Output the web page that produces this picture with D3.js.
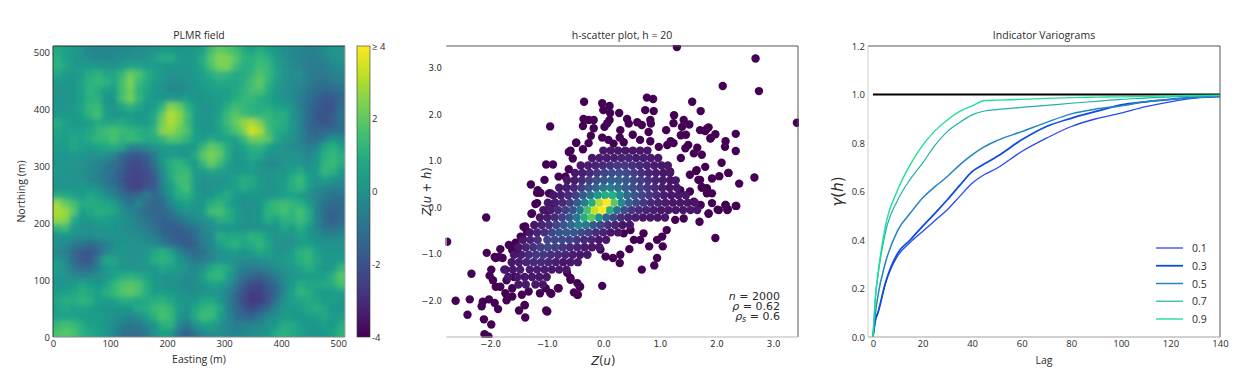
<!DOCTYPE html>
<html lang="en">

<head>
    <meta charset="UTF-8">
    <title>PLMR field, h-scatter and indicator variograms</title>
    <script src="https://d3js.org/d3.v7.min.js"></script>
    <style>
        body {
            margin: 0;
            background-color: #fff;
        }

        svg text {
            font-family: 'Open Sans', sans-serif;
            fill: #2b2b2b;
        }

        .math text, text.math {
            font-family: 'DejaVu Sans', sans-serif;
        }
    </style>
</head>

<body>
    <svg id="chart" width="1243" height="389"></svg>

    <script>
        // field values, rows run north to south
        const fieldRows = [
            [.8,.5,.3,0,-.3,-.4,-.4,-.3,-.2,-.2,-.1,-.1,0,.3,.3,.2,.2,.3,.5,1.5,2,1.8,1.5,.9,.6,1,.5,.2,-.1,-.3,-.4,-.5,-.4,-.2,.3,.1],
            [1,.6,.3,0,-.1,-.3,-.3,-.2,-.1,0,0,.1,.5,.9,.9,.4,.2,.4,.9,1.9,2.5,2.4,1.9,1.2,1,1.4,1.1,.4,0,-.3,-.5,-.6,-.6,-.4,0,.1],
            [1.1,.7,.3,.2,.4,.3,0,0,.4,.5,.6,.4,.3,.3,.2,.2,.2,.3,.8,1.7,2.3,2.4,1.5,1,1.1,1.5,1.3,.6,0,-.2,-.5,-.7,-.7,-.6,-.3,-.2],
            [.7,.4,.2,.4,.9,1.2,.8,.7,1.3,2.1,1.8,1,.6,.3,0,0,.1,.3,.5,1,1.3,1.2,.8,.9,1.3,1.8,1.4,.7,.1,-.1,0,-.6,-.8,-.8,-.5,-.4],
            [.3,.2,.1,.5,1.1,1.3,1.2,.7,1.5,2.4,1.4,.9,.4,.1,-.1,-.1,0,.2,.4,.6,.8,.7,.7,1,1.5,2,1.2,.5,.1,-.2,-.4,-.7,-.9,-1,-.8,-.6],
            [.1,.1,.2,.6,1.2,1,.5,.4,1.5,2.2,1.2,.7,.3,0,-.2,-.2,-.1,.1,.3,.4,.5,.5,.8,1.2,1.6,1.7,1,.3,0,-.3,-.5,-.9,-1.2,-1.4,-1.3,-1],
            [.2,.1,.2,.5,1.1,1.1,.2,.2,1.6,2.3,1.3,.6,.2,.2,.4,.3,.5,.2,.2,.3,.3,.5,.9,1.3,1.3,1,.7,.3,0,-.2,-.7,-1,-1.5,-1.7,-1.7,-1.3],
            [.2,.1,.3,.6,1.3,1.4,.4,.1,.7,1.2,.7,.3,.4,1.2,2.5,2.2,1.2,.4,.1,.2,.4,1,1.5,1.3,1.1,1,.9,.6,.5,.1,-.6,-1.2,-1.7,-2,-1.9,-1.2],
            [.3,.3,.3,.5,1.2,1.6,.6,.1,.3,.4,.2,.3,.8,2,3.1,2.6,1.6,.5,.1,.1,.6,1.4,1.9,1.5,1.3,1.2,1.3,1,1,.2,-.5,-1.2,-1.8,-2,-1.7,-.8],
            [.9,.5,.3,.3,.4,.9,.7,.8,.9,.6,.4,.4,.9,2.3,3,2.5,1.5,.4,.1,.2,.7,1.4,2.1,2.7,3,2.4,1.4,1.2,.9,.3,-.5,-1.3,-1.7,-1.9,-1.6,-1.1],
            [.7,.5,.5,.5,.7,1.2,1.5,1.7,1.4,1.3,1.1,.8,1.2,2.5,2.7,2.2,1.7,.5,.2,.2,.5,1.1,1.7,2.3,3.5,3,1.6,.9,.7,.2,-.5,-1.2,-1.5,-1.2,-1.2,-1],
            [.6,.4,.7,.6,.9,1.3,1.3,1.7,1.2,1.4,1.2,.9,.9,1.3,1.8,1.7,1.3,.5,.4,.8,.5,.5,.5,1.3,2.2,2.2,1.9,.8,.3,0,-.5,-1.1,-1.1,-.7,.2,-.2],
            [.4,.3,.8,.5,.4,.6,.8,.9,.7,-.5,-.5,-.2,.1,.4,.4,.3,.3,.3,1.3,2,1.7,.9,.3,.6,1.1,1.2,.5,.2,0,-.1,-.2,-.6,-.5,.8,1.1,.5],
            [.2,.2,.3,.2,.1,.1,0,-.4,-1.2,-1.8,-1.9,-1.6,-.8,.2,.4,.3,.2,.8,1.9,2.4,2,.9,.2,.3,.9,.7,.2,0,.1,.1,0,-.4,.2,1,1.3,1],
            [.2,.1,.1,0,-.2,-.4,-.6,-1,-1.6,-2.1,-2.2,-1.9,-1,.3,1,1.3,.8,.3,1.3,2.1,1.5,.6,.2,.2,.5,.2,-.1,-.2,.1,.2,.1,-.1,.3,1.2,1.4,.9],
            [.3,.2,.1,0,-.2,-.5,-.9,-1.2,-1.7,-2.2,-2.3,-2.2,-1.5,-.2,.9,1.3,1.4,.4,.4,.7,.5,.3,.3,.3,.4,.1,0,.1,.2,.5,.8,.2,.3,1.3,1.1,.3],
            [.2,.1,.1,0,-.3,-.6,-.9,-1.3,-1.9,-2.3,-2.4,-2.3,-1.8,-.5,.7,1.5,1.5,.4,0,.1,.1,.2,.5,1,.8,.3,.1,.3,.3,.9,1.4,.5,.1,.5,.2,-.1],
            [.1,.1,.2,.2,.2,0,-.6,-1,-1.6,-2.3,-2.5,-2,-1.7,-.5,.4,1.2,1.6,.4,-.1,0,.2,.4,.5,.9,.7,.4,.1,.2,.5,1,1.3,.5,-.1,-.3,-.5,-.4],
            [.9,.9,.6,.3,.8,.6,.1,-.5,-1,-1.5,-1.3,-.7,-1.3,-.8,.2,1,1.2,.5,0,.2,.6,.9,.3,.2,.2,.2,.1,.3,.4,.5,.4,0,-.4,-.8,-1,-1],
            [2.8,2,1.6,.9,.9,.9,.7,.6,-.4,-.9,-.4,-1.1,-1.5,-1.2,-.4,.3,.6,.1,.3,.9,1.3,.7,.2,0,.1,.2,1,1.4,1.5,1.3,1,.5,-.4,-1,-1.3,-1.2],
            [3,2.8,1.9,.6,.7,1,.9,.7,.1,-.4,-.8,-1.2,-1.4,-1.3,-.9,-.2,.1,.1,.4,1.5,1.7,1.1,.5,0,0,.2,1.1,1.3,1.6,1.2,1.6,1,-.5,-1.2,-1.5,-1.3],
            [2.7,2.5,.9,.2,.3,.5,.5,.3,.2,-.2,-.6,-1,-1.3,-1.5,-1.3,-1,-.6,-.2,0,.4,.9,1,.5,.1,0,.3,1,.6,1.1,1.1,1.5,.9,-.4,-1.2,-1.6,-1.2],
            [1.2,1.5,.3,0,0,.1,.2,.2,0,-.1,-.4,-.7,-1.1,-1.5,-1.7,-1.6,-1.2,-.9,-.4,-.1,.1,.2,.2,0,0,.1,.1,.2,.7,.4,1,.4,-.3,-.9,-1.1,-.8],
            [.1,.2,0,-.1,-.1,0,.1,.1,.1,0,-.1,-.3,-.6,-1.2,-1.5,-1.7,-1.7,-1.2,-.5,-.2,.9,.7,.8,.8,1.2,1,.5,.1,.3,.1,.6,.3,0,-.3,-.4,-.2],
            [0,-.2,-.6,-1,-1.2,-.9,-.6,-.1,.2,.1,0,-.1,-.2,-.6,-1.1,-1.5,-1.7,-1.5,-.7,-.3,.5,.9,1.2,.7,.9,1.3,.7,.1,0,.1,.4,.5,.2,.1,.1,.1],
            [-.2,-.6,-1.4,-1.8,-1.9,-1.4,-.5,.1,.2,.1,.1,.2,.7,1.1,.6,-.3,-1,-1.3,-1,-.4,0,.2,.4,.2,.4,.8,.6,.2,.1,.4,1.1,1.2,.6,.2,.2,.2],
            [.3,-.3,-1.2,-1.8,-1.9,-.8,.8,.7,.1,.1,.1,.3,.9,1.1,1,.2,-.3,-.8,-.7,-.3,.1,.1,0,-.1,-.1,-.1,.1,.2,.4,.5,1,1.3,.7,.3,.3,.4],
            [.5,0,-.8,-1.2,-1.3,-.6,.2,.5,.1,.2,.1,.1,.3,.7,.6,.4,0,-.3,.1,.8,1.1,.8,-.1,-.6,-.7,-.7,-.4,-.1,.1,.2,.5,1,.6,.2,.3,1.3],
            [.2,0,-.2,-.4,-.3,-.1,.1,.6,1,1.1,.9,.6,.2,.1,.2,.1,-.2,-.1,.5,1.2,1.3,.6,-.3,-1.1,-1.5,-1.6,-1.2,-.7,-.2,.1,.3,.4,.4,.5,1.1,1.9],
            [.2,.1,.3,.7,.6,.2,.6,1.2,1.7,1.9,1.7,1,.4,.1,0,-.1,-.2,-.1,.2,.5,.5,.1,-.7,-1.6,-2.1,-2.2,-1.7,-1.2,-.3,.4,1,.7,.7,.8,1,1.6],
            [.4,.5,.7,1,.8,.6,1,1.4,1.8,2,1.7,1,.4,.5,.4,.2,0,-.1,.1,.2,0,-.4,-1.2,-2,-2.6,-2.5,-2,-1.4,-.4,.6,1.2,1,.6,.4,.4,.5],
            [.7,1,.9,1.2,1.1,.6,.4,.6,.9,.9,.7,.8,1,1.1,.8,.4,.1,.3,.7,.7,.3,-.5,-1.4,-2.1,-2.7,-2.6,-2,-1,0,.5,.7,.9,.7,.4,.5,.3],
            [.5,.8,.5,.6,.5,.3,.2,.2,.2,.3,.8,.9,1.4,1.6,1.3,.4,.2,.7,1.2,1.4,.8,-.3,-1.2,-1.8,-2.2,-1.8,-1.2,-.4,.3,.3,.4,.8,1,.7,.3,.2],
            [.6,.6,.5,.4,.4,.4,.3,.1,-.1,-.3,-.1,.4,1.1,1.7,1.3,.4,-.1,.8,1.5,1.4,.6,-.3,-1,-1.4,-1.5,-.9,-.2,0,.4,.3,.2,.4,.5,.7,.4,.5],
            [1.3,1.6,1.4,1,.6,.5,.2,-.2,-.6,-.8,-.8,-.3,.2,1,1.2,-.2,-.9,0,.6,.6,.1,-.3,-.6,-.5,-.4,-.2,.1,.3,.9,.8,.4,.2,.3,.5,.3,1],
            [1.7,1.9,1.7,1.1,.8,.6,.3,-.3,-.9,-1.1,-1.1,-.8,-.1,.6,.3,-.9,-1.5,-.9,-.3,-.1,-.1,-.3,-.4,-.3,-.1,0,.2,.9,1.1,.8,.5,.3,.2,.3,.5,1.2]
        ];
        const colorbarTicks = [-4, -2, 0, 2, 4];

        // scatter points outside the dense cloud, [Z(u), Z(u+h)]
        const scatterOuter = [
            [1.3,3.45],[2.69,3.2],[2.11,2.61],[2.75,2.5],[3.42,1.82],[-.34,2.27],[-.02,2.24],[.11,2.18],[0,2.09],[.12,2.03],
            [.28,2.03],[.77,2.36],[.88,2.33],[.74,2.09],[.89,2.07],[.83,1.88],[.84,1.8],[1.57,2.27],[1.72,2.07],[1.25,1.98],
            [1.24,1.81],[1.11,1.66],[1.42,1.88],[1.52,1.78],[1.39,1.73],[1.37,1.55],[1.46,1.56],[1.71,1.66],[1.86,1.72],[1.8,1.64],
            [1.98,1.57],[1.9,1.49],[2.34,1.58],[2.16,1.42],[2.15,1.3],[2.34,1.21],[2.09,.96],[2.21,.74],[2.05,.67],[1.92,.62],
            [2.67,.64],[2.4,.51],[2.35,.03],[2.2,-.04],[2.16,.05],[2.02,-.05],[1.92,.09],[1.86,-.13],[1.92,.3],[1.83,.41],
            [1.74,.42],[1.68,.59],[1.8,.87],[1.64,.78],[1.53,.7],[1.74,1.13],[1.66,1.28],[1.6,1.16],[1.5,1.34],[1.45,1.27],
            [1.37,1.06],[1.19,1.42],[1.13,1.34],[1.24,1.38],[1.53,.34],[1.36,.37],[1.18,.77],[1.6,.12],[1.72,.05],[-.35,1.9],
            [-.17,1.88],[-.26,1.88],[-.36,1.75],[-.17,1.7],[-.22,1.54],[-.26,1.38],[-.48,1.39],[-.58,1.22],[-.36,1.25],[-.54,1.05],
            [-.61,.82],[-.67,.66],[.07,1.81],[.02,1.73],[.11,1.88],[-.02,1.5],[.09,1.45],[.18,1.37],[.3,1.66],[.29,1.5],
            [.42,1.9],[.45,1.8],[.52,1.56],[.68,1.77],[.6,1.83],[.8,1.62],[.83,1.42],[.36,1.4],[.65,1.45],[.98,1.3],
            [-2.07,-.22],[-2.76,-.74],[-2.06,-.98],[-1.82,-.9],[-1.9,-1.09],[-1.78,-1.09],[-2.33,-1.43],[-1.98,-1.34],[-2.01,-1.47],[-1.95,-1.57],
            [-1.9,-1.71],[-2.61,-2.01],[-2.36,-1.98],[-2.02,-1.98],[-2.13,-2.03],[-2.15,-2.13],[-1.92,-2.06],[-1.86,-2.19],[-2.4,-2.31],[-2.11,-2.41],
            [-1.98,-2.52],[-2.1,-2.73],[-2.03,-2.78],[-1.49,-2.22],[-1.39,-2.1],[-1.38,-2.37],[-.99,-2.24],[-1.71,-2],[-1.61,-1.92],[-1.44,-1.88],
            [-1.32,-1.81],[-1.12,-1.85],[-.92,-1.86],[-1.02,-1.74],[-.8,-1.74],[-.52,-1.83],[-.45,-1.88],[-.46,-1.63],[-.41,-1.71],[-.02,-1.69],
            [-.58,-1.56],[-1.73,-1.34],[-1.82,-1.71],[-1.73,-1.85],[-1.61,-1.74],[-1.71,-1.57],[-1.58,-1.5],[-1.41,-.42],[-1.35,-.52],[-1.27,-.14],
            [-1.67,-.81],[-1.55,-.76],[-1.43,-.66],[-1.61,-.92],[-1.52,-.99],[-1.2,.07],[-1.11,.31],[-1.17,.31],[-.93,.3],[-.99,-.06],
            [-.87,.08],[1.98,-.66],[1.7,-.31],[1.86,-.14],[2.04,-.06],[2.16,.05],[2.19,-.06],[2.34,.03],[1.42,-.24],[1.27,-.27],
            [1.12,-.49],[1.04,-.63],[.95,-.7],[1.05,-.84],[.95,-1.09],[.9,-1.25],[.68,-1.34],[.81,-.84],[.65,-.7],[.71,-.56],
            [.54,-.7],[.46,-.9],[.3,-1.02],[.29,-1.2],[.17,-1.09],[.04,-1.06],[-.05,-.91],[.48,-.49],[.36,-.56],[-.42,-1.7],
            [-.46,-1.88],[-.58,-1.52],[-.64,-1.41],[-.79,-1.74],[-.94,-1.84],[-1.01,-2.22],[-1.39,-2.11],[1.83,.3],[1.74,.44],[1.71,.59],
            [1.65,.8],[2.21,.74],[1.89,1.48],[1.83,1.69],[-1.28,.49],[-1.04,.59],[-1.01,.92],[-.89,.92],[-.94,1.74],[-.79,.66],
            [-.61,1.19],[-.48,1.39],[-1.16,.37],[-.96,.3],[-1.17,.09],[-1.26,-.13],[-1.38,-.41],[-1.46,-.63],[-1.84,-1.07],[-1.92,-1.07]
        ];

        // dense cloud by row: [Z(u+h), [Z(u), density %, Z(u), density %, ...]]
        const scatterCloud = [
            [1.22,[0,6,.13,6,.26,6,.39,6,.52,6,.65,6,.78,6]],
            [1.06,[-.2,6,-.07,8,.06,8,.19,8,.32,10,.45,10,.58,8,.71,8,.84,8,.97,6]],
            [.9,[-.4,6,-.27,8,-.14,10,-.01,12,.12,14,.25,16,.38,16,.51,14,.64,12,.77,10,.9,8,1.03,6,1.14,6]],
            [.74,[-.5,6,-.37,8,-.24,12,-.11,16,.02,20,.15,24,.28,24,.41,22,.54,18,.67,14,.8,10,.93,8,1.06,6,1.18,6]],
            [.58,[-.64,6,-.51,8,-.38,12,-.25,18,-.12,24,.01,28,.14,30,.27,30,.4,26,.53,22,.66,18,.79,14,.92,10,1.05,8,1.18,6,1.28,6]],
            [.42,[-.78,6,-.65,8,-.52,12,-.39,18,-.26,26,-.13,32,0,40,.13,42,.26,36,.39,30,.52,24,.65,20,.78,16,.91,12,1.04,8,1.17,6,1.3,6]],
            [.26,[-.88,6,-.75,8,-.62,12,-.49,18,-.36,28,-.23,38,-.1,52,.03,62,.16,62,.29,48,.42,34,.55,26,.68,20,.81,16,.94,12,1.07,8,1.2,6,1.33,6,1.46,6]],
            [.1,[-.98,6,-.85,8,-.72,12,-.59,18,-.46,28,-.33,42,-.2,62,-.07,88,.06,100,.19,75,.32,48,.45,30,.58,22,.71,16,.84,12,.97,10,1.1,8,1.23,6,1.36,6,1.49,6,1.62,6]],
            [-.06,[-1.06,6,-.93,8,-.8,12,-.67,18,-.54,26,-.41,40,-.28,70,-.15,92,-.02,100,.11,62,.24,36,.37,24,.5,16,.63,12,.76,10,.89,8,1.02,6,1.15,6,1.28,6,1.41,6,1.54,6,1.66,6]],
            [-.22,[-1.12,6,-.99,8,-.86,12,-.73,18,-.6,26,-.47,40,-.34,62,-.21,75,-.08,52,.05,32,.18,22,.31,14,.44,10,.57,8,.7,6,.83,6,.96,6,1.09,6]],
            [-.38,[-1.22,6,-1.09,10,-.96,14,-.83,20,-.7,26,-.57,34,-.44,44,-.31,40,-.18,28,-.05,20,.08,14,.21,10,.34,6,.47,6]],
            [-.54,[-1.3,6,-1.17,10,-1.04,14,-.91,20,-.78,26,-.65,28,-.52,26,-.39,22,-.26,18,-.13,12,0,10,.13,6,.26,6]],
            [-.7,[-1.42,6,-1.29,10,-1.16,14,-.99,20,-.86,22,-.73,22,-.6,20,-.47,16,-.34,12,-.21,10,-.08,6,.05,6]],
            [-.86,[-1.5,6,-1.37,10,-1.24,14,-1.11,18,-.98,20,-.85,18,-.72,16,-.59,12,-.46,10,-.33,8,-.2,6,-.07,6]],
            [-1.02,[-1.58,6,-1.45,8,-1.32,12,-1.19,16,-1.06,16,-.93,14,-.8,12,-.67,10,-.54,8,-.41,6,-.28,6]],
            [-1.18,[-1.62,6,-1.49,8,-1.36,10,-1.23,12,-1.1,12,-.97,10,-.84,8,-.71,6,-.58,6,-.45,6]],
            [-1.34,[-1.75,6,-1.6,6,-1.47,8,-1.3,8,-1.17,8,-1.04,8,-.91,6,-.78,6,-.65,6]],
            [-1.5,[-1.68,6,-1.52,6,-1.39,6,-1.26,6,-1.13,6,-1,6]],
            [-1.66,[-1.5,6,-1.37,6,-1.2,6,-1.07,6]]
        ];
        const scatterNotes = ['2000', '0.62', '0.6'];

        // indicator variograms
        const lags = [0,1,2,5,10,15,20,25,30,35,40,45,50,60,70,80,90,100,110,120,130,140];
        const thresholds = ['0.1', '0.3', '0.5', '0.7', '0.9'];
        const gamma01 = [0,.07,.1,.22,.335,.39,.435,.48,.525,.58,.634,.67,.696,.765,.82,.868,.9,.923,.95,.97,.985,.99];
        const gamma03 = [0,.07,.1,.222,.346,.40,.456,.51,.566,.625,.682,.714,.744,.813,.868,.902,.93,.957,.97,.98,.988,.993];
        const gamma05 = [0,.1,.17,.305,.44,.51,.573,.62,.662,.71,.751,.785,.81,.847,.885,.92,.94,.953,.97,.98,.988,.993];
        const gamma07 = [0,.16,.25,.43,.565,.65,.717,.79,.847,.885,.916,.932,.938,.947,.955,.964,.972,.98,.985,.99,.993,.995];
        const gamma09 = [0,.17,.26,.456,.607,.71,.79,.85,.895,.93,.953,.975,.977,.98,.984,.987,.989,.99,.992,.995,.996,.997];
        const gammaSeries = [gamma01, gamma03, gamma05, gamma07, gamma09];
        const lineColors = ['#2a48f0', '#0a4ee0', '#2484c4', '#1fb0aa', '#1fe096'];
        const lineWidths = [1.3, 1.8, 1.5, 1.2, 1.4];
        const sill = [1, 1];

        const svg = d3.select('#chart');
        const top_ = 46, bottom_ = 337;
        const plotH = bottom_ - top_;

        function addPanel(left, width) {
            return svg.append('g').attr('transform', `translate(${left},${top_})`).datum({ width: width });
        }

        function addSpines(g, w, colors) {
            const sides = [[0, 0, w, 0, colors[0]], [w, 0, w, plotH, colors[1]], [0, plotH, w, plotH, colors[2]], [0, 0, 0, plotH, colors[3]]];
            sides.forEach(s => {
                g.append('line').attr('x1', s[0]).attr('y1', s[1]).attr('x2', s[2]).attr('y2', s[3])
                    .attr('stroke', s[4]).attr('stroke-width', 1);
            });
        }

        function styleAxis(sel, size) {
            sel.select('.domain').remove();
            sel.selectAll('text').attr('font-size', size).style('fill', '#2b2b2b');
        }

        function addTitle(g, w, label) {
            g.append('text').attr('x', w / 2).attr('y', -7).attr('text-anchor', 'middle')
                .attr('font-size', 10.5).text(label);
        }

        // ---------- PLMR field ----------
        const fieldW = 292;
        const field = addPanel(53, fieldW);
        const colorValue = d3.scaleSequential([-4, 4], d3.interpolateViridis);
        const colBand = d3.scaleBand().domain(d3.range(fieldRows[0].length)).range([0, fieldW]);
        const rowBand = d3.scaleBand().domain(d3.range(fieldRows.length)).range([0, plotH]);

        const defs = svg.append('defs');
        defs.append('clipPath').attr('id', 'field-clip').append('rect').attr('width', fieldW).attr('height', plotH);
        defs.append('filter').attr('id', 'field-blur').attr('x', '-10%').attr('y', '-10%').attr('width', '120%').attr('height', '120%')
            .append('feGaussianBlur').attr('stdDeviation', 2.6);

        const pad = 14; // edge cells run past the clip so the blur keeps its colour at the border
        const cells = field.append('g').attr('clip-path', 'url(#field-clip)')
            .append('g').attr('filter', 'url(#field-blur)');
        fieldRows.forEach((row, r) => {
            row.forEach((v, c) => {
                const x0 = colBand(c) - (c === 0 ? pad : 0);
                const y0 = rowBand(r) - (r === 0 ? pad : 0);
                const x1 = colBand(c) + colBand.bandwidth() + (c === row.length - 1 ? pad : 0.5);
                const y1 = rowBand(r) + rowBand.bandwidth() + (r === fieldRows.length - 1 ? pad : 0.5);
                cells.append('rect').attr('x', x0).attr('y', y0).attr('width', x1 - x0).attr('height', y1 - y0)
                    .attr('fill', colorValue(v));
            });
        });

        const eastScale = d3.scaleLinear().domain([0, 512]).range([0, fieldW]);
        const northScale = d3.scaleLinear().domain([0, 512]).range([plotH, 0]);
        field.append('g').attr('transform', `translate(0,${plotH})`)
            .call(d3.axisBottom(eastScale).tickValues(d3.range(0, 501, 100)).tickSize(0).tickPadding(3))
            .call(styleAxis, 9.5);
        field.append('g').call(d3.axisLeft(northScale).tickValues(d3.range(0, 501, 100)).tickSize(0).tickPadding(3))
            .call(styleAxis, 9.5);
        addSpines(field, fieldW, ['#1f2a2a', '#a8a8a8', '#888', '#2a3b3b']);
        addTitle(field, fieldW, 'PLMR field');
        field.append('text').attr('x', fieldW / 2).attr('y', plotH + 26).attr('text-anchor', 'middle')
            .attr('font-size', 10.5).text('Easting (m)');
        field.append('text').attr('transform', `translate(-28,${plotH / 2}) rotate(-90)`).attr('text-anchor', 'middle')
            .attr('font-size', 10.5).text('Northing (m)');

        // colorbar
        const barGrad = defs.append('linearGradient').attr('id', 'bar-grad').attr('x1', 0).attr('x2', 0).attr('y1', 1).attr('y2', 0);
        d3.range(0, 1.01, 0.1).forEach(o => {
            barGrad.append('stop').attr('offset', o).attr('stop-color', d3.interpolateViridis(o));
        });
        const bar = svg.append('g').attr('transform', `translate(357,${top_})`);
        bar.append('rect').attr('width', 13).attr('height', plotH).attr('fill', 'url(#bar-grad)')
            .attr('stroke', '#333').attr('stroke-width', 0.6);
        const barScale = d3.scaleLinear().domain([-4, 4]).range([plotH, 0]);
        bar.append('g').attr('transform', 'translate(13,0)')
            .call(d3.axisRight(barScale).tickValues(colorbarTicks).tickSize(0).tickPadding(2)
                .tickFormat(d => d === 4 ? '\u2265 4' : String(d)))
            .call(styleAxis, 9.5);

        // ---------- h-scatter ----------
        const scatterW = 352;
        const scatter = addPanel(446, scatterW);
        defs.append('clipPath').attr('id', 'scatter-clip').append('rect').attr('x', -1).attr('y', -1).attr('width', scatterW + 2).attr('height', plotH + 2);
        const zx = d3.scaleLinear().domain([-2.78, 3.44]).range([0, scatterW]);
        const zy = d3.scaleLinear().domain([-2.79, 3.47]).range([plotH, 0]);

        const cloud = [];
        scatterCloud.forEach(row => {
            for (let i = 0; i < row[1].length; i += 2) cloud.push({ x: row[1][i], y: row[0], d: row[1][i + 1] });
        });
        scatterOuter.forEach(p => cloud.push({ x: p[0], y: p[1], d: 0 }));
        cloud.sort((a, b) => a.d - b.d);

        const densityColor = d3.scaleSequential([0, 100], d3.interpolateViridis);
        scatter.append('g').attr('clip-path', 'url(#scatter-clip)')
            .selectAll('circle').data(cloud).enter().append('circle')
            .attr('cx', d => zx(d.x)).attr('cy', d => zy(d.y)).attr('r', 4.2)
            .attr('fill', d => densityColor(d.d));

        scatter.append('g').attr('class', 'math').attr('transform', `translate(0,${plotH})`)
            .call(d3.axisBottom(zx).tickValues([-2, -1, 0, 1, 2, 3]).tickSize(0).tickPadding(4))
            .call(styleAxis, 8.5);
        scatter.append('g').attr('class', 'math')
            .call(d3.axisLeft(zy).tickValues([-2, -1, 0, 1, 2, 3]).tickSize(0).tickPadding(4))
            .call(styleAxis, 8.5);
        addSpines(scatter, scatterW, ['#555', '#555', '#b5b5b5', '#fff']);
        addTitle(scatter, scatterW, 'h-scatter plot, h = 20');

        function mathLabel(parent, attrs, parts, size) {
            const t = parent.append('text').attr('class', 'math').attr('font-size', size);
            Object.keys(attrs).forEach(k => t.attr(k, attrs[k]));
            parts.forEach(p => {
                const s = t.append('tspan').text(p[0]);
                if (p[1]) s.attr('font-style', 'italic');
                if (p[2]) s.attr('font-size', p[2]).attr('dy', p[3]);
            });
            return t;
        }
        mathLabel(scatter, { x: zx(0) , y: plotH + 28, 'text-anchor': 'middle' }, [['Z', 1], ['(', 0], ['u', 1], [')', 0]], 11.5);
        mathLabel(scatter, { transform: `translate(-15,${plotH / 2}) rotate(-90)`, 'text-anchor': 'middle' },
            [['Z', 1], ['(', 0], ['u', 1], [' + ', 0], ['h', 1], [')', 0]], 11.5);

        const noteX = scatterW - 18;
        mathLabel(scatter, { x: noteX, y: 254, 'text-anchor': 'end' }, [['n', 1], [' = ' + scatterNotes[0], 0]], 11);
        mathLabel(scatter, { x: noteX, y: 264, 'text-anchor': 'end' }, [['\u03c1', 1], [' = ' + scatterNotes[1], 0]], 11);
        mathLabel(scatter, { x: noteX, y: 274, 'text-anchor': 'end' }, [['\u03c1', 1], ['s', 1, 8, 2], [' = ' + scatterNotes[2], 0, 11, -2]], 11);

        // ---------- variograms ----------
        const vgW = 352;
        const vg = addPanel(868, vgW);
        const lagScale = d3.scaleLinear().domain([-2, 140]).range([0, vgW]);
        const gammaScale = d3.scaleLinear().domain([0, 1.2]).range([plotH, 0]);
        const vgLine = d3.line().x(d => lagScale(d[0])).y(d => gammaScale(d[1])).curve(d3.curveMonotoneX);

        vg.append('path').attr('d', vgLine([[0, sill[0]], [140, sill[1]]]))
            .attr('fill', 'none').attr('stroke', '#000').attr('stroke-width', 2);
        gammaSeries.forEach((series, i) => {
            vg.append('path').attr('d', vgLine(lags.map((l, j) => [l, series[j]])))
                .attr('fill', 'none').attr('stroke', lineColors[i]).attr('stroke-width', lineWidths[i]);
        });

        vg.append('g').attr('transform', `translate(0,${plotH})`)
            .call(d3.axisBottom(lagScale).tickValues(d3.range(0, 141, 20)).tickSize(0).tickPadding(3))
            .call(styleAxis, 9.5);
        vg.append('g')
            .call(d3.axisLeft(gammaScale).tickValues(d3.range(0, 1.21, 0.2)).tickFormat(d3.format('.1f')).tickSize(0).tickPadding(3))
            .call(styleAxis, 9.5);
        addSpines(vg, vgW, ['#555', '#555', '#a0a0a0', '#cfcfcf']);
        addTitle(vg, vgW, 'Indicator Variograms');
        vg.append('text').attr('x', vgW / 2).attr('y', plotH + 27).attr('text-anchor', 'middle')
            .attr('font-size', 10.5).text('Lag');
        mathLabel(vg, { transform: `translate(-25,${plotH / 2}) rotate(-90)`, 'text-anchor': 'middle' },
            [['\u03b3', 1], ['(', 0], ['h', 1], [')', 0]], 15);

        const legendY = d3.scalePoint().domain(thresholds).range([202, 273]);
        thresholds.forEach((t, i) => {
            vg.append('line').attr('x1', 288).attr('x2', 315).attr('y1', legendY(t)).attr('y2', legendY(t))
                .attr('stroke', lineColors[i]).attr('stroke-width', lineWidths[i]);
            vg.append('text').attr('x', 324).attr('y', legendY(t) + 4).attr('font-size', 10.5).text(t);
        });
    </script>
</body>

</html>
